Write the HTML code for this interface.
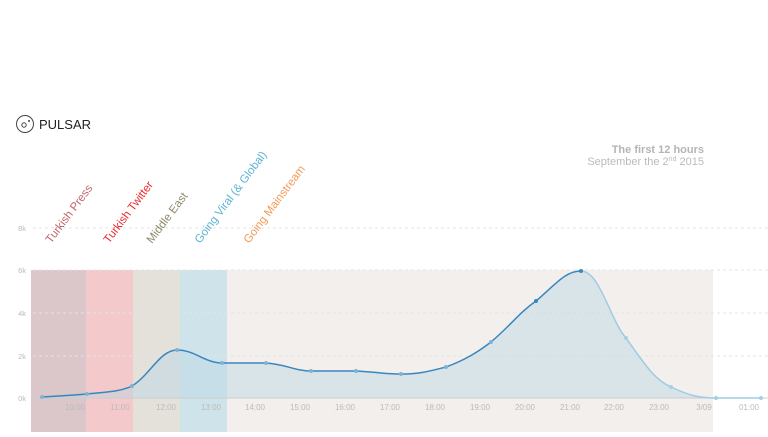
<!DOCTYPE html>
<html><head><style>
body{margin:0;background:#fff;width:768px;height:432px;overflow:hidden;font-family:"Liberation Sans",sans-serif}
</style></head><body>
<svg width="768" height="432" xmlns="http://www.w3.org/2000/svg" font-family="Liberation Sans, sans-serif">
<circle cx="25" cy="124" r="8.5" fill="none" stroke="#444" stroke-width="1"/>
<circle cx="24" cy="125" r="2.2" fill="none" stroke="#444" stroke-width="1"/>
<circle cx="29" cy="121" r="1" fill="#444"/>
<text x="39" y="129" font-size="13" fill="#222">PULSAR</text>
<text x="704" y="153" font-size="11" font-weight="bold" fill="#b5b5b5" text-anchor="end">The first 12 hours</text>
<text x="704" y="165" font-size="11" fill="#bbb" text-anchor="end">September the 2<tspan font-size="7" dy="-4">nd</tspan><tspan dy="4"> 2015</tspan></text>
<rect x="31" y="270" width="55" height="162" fill="#dbc6c9"/>
<rect x="86" y="270" width="47" height="162" fill="#f3c9cb"/>
<rect x="133" y="270" width="47" height="162" fill="#e4e1db"/>
<rect x="180" y="270" width="47" height="162" fill="#cfe3ea"/>
<rect x="227" y="270" width="486" height="162" fill="#f2efec"/>
<g stroke="#e4e4e4" stroke-dasharray="3,3">
<line x1="33" y1="228" x2="768" y2="228"/><line x1="33" y1="270" x2="768" y2="270"/>
<line x1="33" y1="313" x2="768" y2="313"/><line x1="33" y1="356" x2="768" y2="356"/>
</g>
<line x1="31" y1="398" x2="768" y2="398" stroke="#ccc"/>
<g font-size="7.5" fill="#bbb" text-anchor="end">
<text x="26" y="231">8k</text><text x="26" y="273">6k</text><text x="26" y="316">4k</text><text x="26" y="359">2k</text><text x="26" y="401">0k</text>
</g>
<g font-size="8" fill="#bbb" text-anchor="middle">
<text x="75" y="410">10:00</text><text x="120" y="410">11:00</text><text x="166" y="410">12:00</text><text x="211" y="410">13:00</text><text x="255" y="410">14:00</text><text x="300" y="410">15:00</text><text x="345" y="410">16:00</text><text x="390" y="410">17:00</text><text x="435" y="410">18:00</text><text x="480" y="410">19:00</text><text x="525" y="410">20:00</text><text x="570" y="410">21:00</text><text x="614" y="410">22:00</text><text x="659" y="410">23:00</text><text x="704" y="410">3/09</text><text x="749" y="410">01:00</text>
</g>
<path d="M42,397 C60,396 75,395 87,394 C105,392 120,392 132,386 C150,375 160,350 177,350 C195,350 205,363 222,363 L266,363 C285,364 295,371 311,371 L356,371 C375,372 385,374 401,374 C420,374 430,371 446,367 C465,360 478,352 491,342 C510,326 520,312 536,301 C555,285 565,271 581,271 C600,271 610,320 626,338 C645,365 655,380 671,387 C690,396 700,398 716,398 L761,398 L761,398 L42,398 Z" fill="#b8d6e4" fill-opacity="0.45"/>
<path d="M42,397 C60,396 75,395 87,394 C105,392 120,392 132,386 C150,375 160,350 177,350 C195,350 205,363 222,363 L266,363 C285,364 295,371 311,371 L356,371 C375,372 385,374 401,374 C420,374 430,371 446,367 C465,360 478,352 491,342 C510,326 520,312 536,301 C555,285 565,271 581,271" fill="none" stroke="#3a86bd" stroke-width="1.5"/>
<path d="M581,271 C600,271 610,320 626,338 C645,365 655,380 671,387 C690,396 700,398 716,398 L761,398" fill="none" stroke="#9fcbe3" stroke-width="1.5"/>
<g fill="#7fb3d6">
<circle cx="42" cy="397" r="2"/><circle cx="87" cy="394" r="2"/><circle cx="132" cy="386" r="2"/><circle cx="177" cy="350" r="2"/><circle cx="222" cy="363" r="2"/><circle cx="266" cy="363" r="2"/><circle cx="311" cy="371" r="2"/><circle cx="356" cy="371" r="2"/><circle cx="401" cy="374" r="2"/><circle cx="446" cy="367" r="2"/><circle cx="491" cy="342" r="2"/><circle cx="536" cy="301" r="2" fill="#3a86bd"/><circle cx="581" cy="271" r="2" fill="#3a86bd"/><circle cx="626" cy="338" r="2" fill="#a6d0e6"/><circle cx="671" cy="387" r="2" fill="#a6d0e6"/><circle cx="716" cy="398" r="2" fill="#a6d0e6"/><circle cx="761" cy="398" r="2" fill="#a6d0e6"/>
</g>
<g font-size="11.5">
<text transform="translate(51,244) rotate(-53)" fill="#c4646c">Turkish Press</text>
<text transform="translate(109,244) rotate(-53)" fill="#ee2a2f">Turkish Twitter</text>
<text transform="translate(152,244) rotate(-53)" fill="#8f8a6c">Middle East</text>
<text transform="translate(200,244) rotate(-53)" fill="#5fb3d4">Going Viral (&amp; Global)</text>
<text transform="translate(249,244) rotate(-53)" fill="#f49a57">Going Mainstream</text>
</g>
</svg>
</body></html>
